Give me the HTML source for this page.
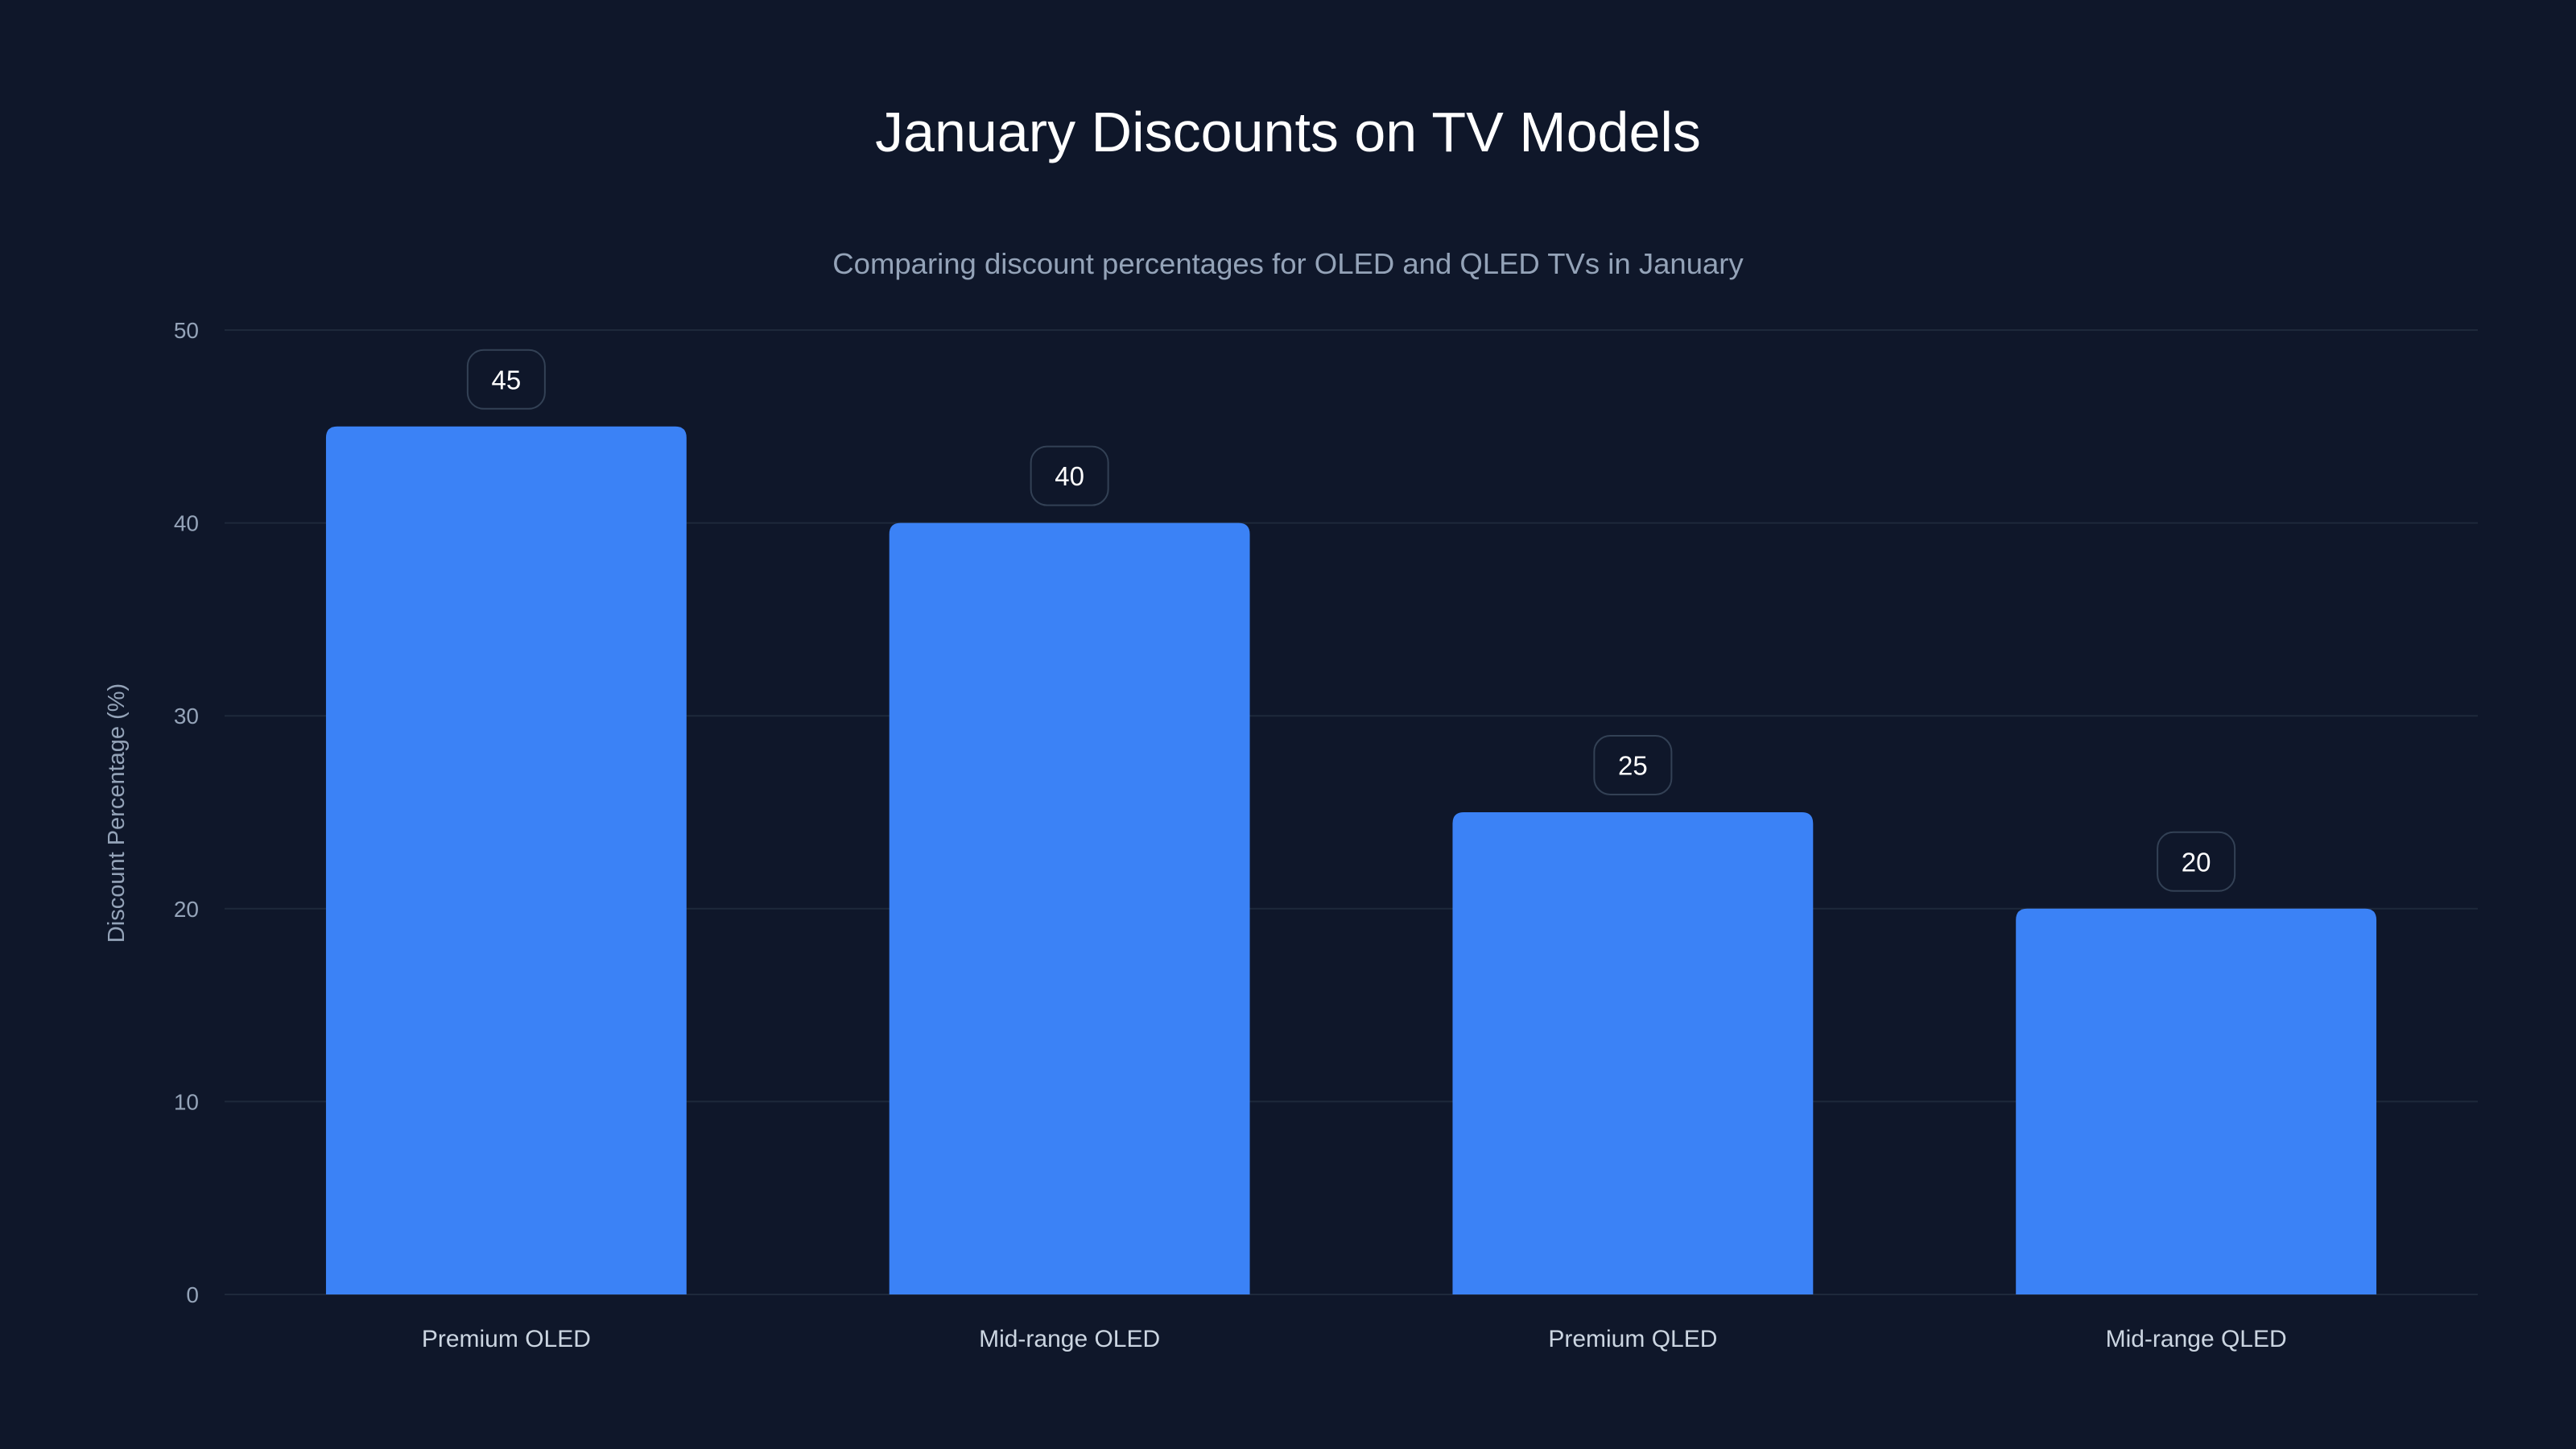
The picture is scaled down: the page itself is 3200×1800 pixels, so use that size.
<!DOCTYPE html>
<html><head><meta charset="utf-8">
<style>
html,body{margin:0;padding:0;background:#0f172a;}
svg{display:block;font-family:"Liberation Sans",sans-serif;}
</style></head>
<body>
<svg id="chart" width="3200" height="1800" viewBox="0 0 3200 1800">
<rect x="0" y="0" width="3200" height="1800" fill="#0f172a"/>
<text x="1600" y="188" text-anchor="middle" font-size="70" fill="#ffffff">January Discounts on TV Models</text>
<text x="1600" y="340" text-anchor="middle" font-size="36.5" fill="#94a3b8">Comparing discount percentages for OLED and QLED TVs in January</text>
<text transform="translate(154,1010) rotate(-90)" text-anchor="middle" font-size="29" fill="#94a3b8">Discount Percentage (%)</text>
<g id="grid"></g>
<g id="yticks"></g>
<g id="bars"></g>
<g id="xlabels"></g>
</svg>
<script>
const categories = ["Premium OLED", "Mid-range OLED", "Premium QLED", "Mid-range QLED"];
const discountValues = [45, 40, 25, 20];
const yTickValues = [0, 10, 20, 30, 40, 50];

const NS = "http://www.w3.org/2000/svg";
const plotLeft = 279, plotRight = 3078, plotTop = 410, plotBottom = 1608, yMax = 50;
const band = (plotRight - plotLeft) / categories.length;
const barW = band * 0.64;
function yScale(v){ return plotBottom - (v / yMax) * (plotBottom - plotTop); }
function xCenter(i){ return plotLeft + band * (i + 0.5); }
function mk(tag, attrs){ const e = document.createElementNS(NS, tag); for (const k in attrs) e.setAttribute(k, attrs[k]); return e; }

const grid = document.getElementById('grid');
const yticks = document.getElementById('yticks');
yTickValues.forEach(v => {
  const y = yScale(v);
  const l = mk('line', {x1: plotLeft, x2: plotRight, y1: y, y2: y, stroke: '#1e293b', 'stroke-width': 2});
  
  
  grid.appendChild(l);
  const t = mk('text', {x: 247, y: y + 10, 'text-anchor': 'end', 'font-size': 28, fill: '#94a3b8'});
  
  
  t.textContent = v;
  yticks.appendChild(t);
});

const bars = document.getElementById('bars');
const xl = document.getElementById('xlabels');
categories.forEach((c, i) => {
  const cx = xCenter(i), v = discountValues[i], top = yScale(v), r = 14;
  const x0 = cx - barW / 2, x1 = cx + barW / 2;
  const p = mk('path', {d: `M${x0},${plotBottom} L${x0},${top + r} Q${x0},${top} ${x0 + r},${top} L${x1 - r},${top} Q${x1},${top} ${x1},${top + r} L${x1},${plotBottom} Z`, fill: '#3b82f6'});
  
  
  bars.appendChild(p);
  const bw = 96, bh = 73, by = top - 22 - bh;
  const b = mk('rect', {x: cx - bw / 2, y: by, width: bw, height: bh, rx: 20, fill: '#0f172a', stroke: '#334155', 'stroke-width': 2});
  
  
  bars.appendChild(b);
  const vt = mk('text', {x: cx, y: by + bh / 2 + 12, 'text-anchor': 'middle', 'font-size': 33, fill: '#ffffff'});
  
  
  vt.textContent = v;
  bars.appendChild(vt);
  const lt = mk('text', {x: cx, y: 1673, 'text-anchor': 'middle', 'font-size': 30, fill: '#cbd5e1'});
  
  
  lt.textContent = c;
  xl.appendChild(lt);
});
</script>
</body></html>
